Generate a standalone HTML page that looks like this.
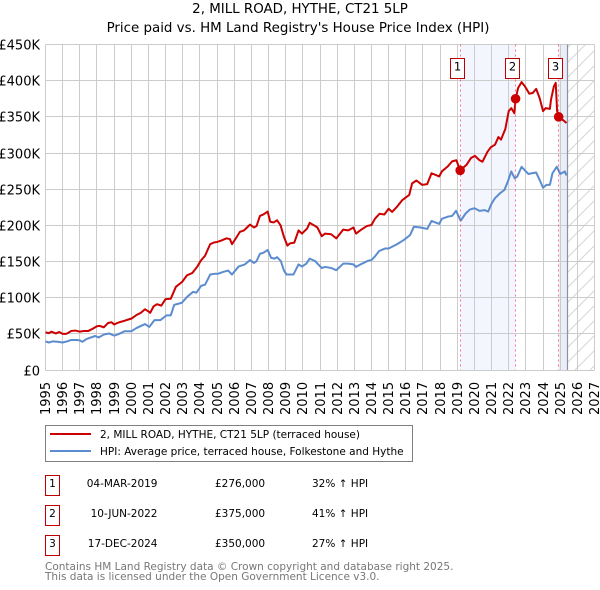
<!DOCTYPE html>
<html lang="en">
<head>
<meta charset="utf-8">
<title>2, MILL ROAD, HYTHE, CT21 5LP</title>
<style>
html,body{margin:0;padding:0;background:#fff;}
body{width:600px;height:590px;overflow:hidden;position:relative;font-family:"DejaVu Sans","Liberation Sans",sans-serif;}
svg{position:absolute;left:0;top:0;}
text{font-family:"DejaVu Sans","Liberation Sans",sans-serif;}
</style>
</head>
<body>
<svg id="chart" width="600" height="590" viewBox="0 0 600 590" xmlns="http://www.w3.org/2000/svg">
  <defs>
    <pattern id="hatch" patternUnits="userSpaceOnUse" width="15" height="15">
      <path d="M-2 17L17 -2M-2 2L2 -2M13 17L17 13" stroke="#d6d6d6" stroke-width="1" fill="none"/>
    </pattern>
  </defs>
  <text x="300" y="13" font-size="13.4" text-anchor="middle" fill="#000">2, MILL ROAD, HYTHE, CT21 5LP</text>
  <text x="298" y="32" font-size="13.4" text-anchor="middle" fill="#000">Price paid vs. HM Land Registry's House Price Index (HPI)</text>
  <g id="bands"></g>
  <g id="grid"></g>
  <g id="axis-labels"></g>
  <g id="series"></g>
  <g id="sales"></g>

  <rect x="45.5" y="425.5" width="367" height="36" fill="#fff" stroke="#808080" stroke-width="1"/>
  <line x1="50" x2="91" y1="434" y2="434" stroke="#cc0000" stroke-width="2"/>
  <text x="100" y="438" font-size="10.5" fill="#000">2, MILL ROAD, HYTHE, CT21 5LP (terraced house)</text>
  <line x1="50" x2="91" y1="451" y2="451" stroke="#5b8ccf" stroke-width="2"/>
  <text x="100" y="455" font-size="10.5" fill="#000">HPI: Average price, terraced house, Folkestone and Hythe</text>

  <g font-size="10.5" fill="#000">
    <rect x="45.5" y="475.5" width="14" height="20" fill="#fff" stroke="#c00000"/>
    <text x="52.5" y="487" text-anchor="middle">1</text>
    <text x="157.5" y="487" text-anchor="end">04-MAR-2019</text>
    <text x="215" y="487">£276,000</text>
    <text x="312" y="487">32% ↑ HPI</text>
  </g>
  <g font-size="10.5" fill="#000">
    <rect x="45.5" y="505.5" width="14" height="20" fill="#fff" stroke="#c00000"/>
    <text x="52.5" y="517" text-anchor="middle">2</text>
    <text x="157.5" y="517" text-anchor="end">10-JUN-2022</text>
    <text x="215" y="517">£375,000</text>
    <text x="312" y="517">41% ↑ HPI</text>
  </g>
  <g font-size="10.5" fill="#000">
    <rect x="45.5" y="535.5" width="14" height="20" fill="#fff" stroke="#c00000"/>
    <text x="52.5" y="547" text-anchor="middle">3</text>
    <text x="157.5" y="547" text-anchor="end">17-DEC-2024</text>
    <text x="215" y="547">£350,000</text>
    <text x="312" y="547">27% ↑ HPI</text>
  </g>
  <text x="45" y="570" font-size="10.5" fill="#777">Contains HM Land Registry data © Crown copyright and database right 2025.</text>
  <text x="45" y="580" font-size="10.5" fill="#777">This data is licensed under the Open Government Licence v3.0.</text>
</svg>
<script>
const yearTicks = [1995,1996,1997,1998,1999,2000,2001,2002,2003,2004,2005,2006,2007,2008,2009,2010,2011,2012,2013,2014,2015,2016,2017,2018,2019,2020,2021,2022,2023,2024,2025,2026,2027];
const valueTicks = [0,50000,100000,150000,200000,250000,300000,350000,400000,450000];
const valueTickLabels = ['£0','£50K','£100K','£150K','£200K','£250K','£300K','£350K','£400K','£450K'];

const priceDates = [1995,1995.2,1995.35,1995.6,1995.8,1996,1996.2,1996.3,1996.5,1996.75,1997,1997.25,1997.5,1997.75,1998,1998.15,1998.4,1998.65,1998.85,1999,1999.3,1999.6,1999.85,2000,2000.3,2000.55,2000.8,2001,2001.1,2001.3,2001.5,2001.75,2002,2002.3,2002.6,2002.97,2003.25,2003.55,2003.85,2004.05,2004.3,2004.6,2004.85,2005,2005.25,2005.55,2005.75,2005.87,2006.15,2006.33,2006.57,2006.92,2007.15,2007.3,2007.5,2007.7,2007.95,2008.1,2008.3,2008.5,2008.7,2008.9,2009.1,2009.25,2009.5,2009.75,2009.95,2010.25,2010.4,2010.65,2010.85,2011.1,2011.3,2011.65,2011.95,2012.35,2012.65,2012.95,2013.1,2013.4,2013.73,2014,2014.2,2014.47,2014.75,2015,2015.2,2015.5,2015.8,2016.2,2016.37,2016.62,2016.95,2017.25,2017.5,2017.95,2018.1,2018.45,2018.7,2018.95,2019.17,2019.55,2019.8,2020.03,2020.3,2020.47,2020.77,2020.96,2021.2,2021.4,2021.55,2021.8,2022,2022.15,2022.33,2022.4,2022.55,2022.75,2022.95,2023.2,2023.4,2023.6,2023.8,2024,2024.15,2024.4,2024.46,2024.63,2024.74,2024.82,2024.91,2025.05,2025.2,2025.37];
const priceValues = [52,51,53,50.5,52.5,50,50,51,54,54.5,53,54,54,57,60.5,61,59,65,66,63,66,68,70,71,76,79,84,81,79,88,91,89,98,98.5,115,122,131,134,143,151,158,174,176.5,177,179,182,181,174,184,191,193,201,197,199,213,215,219,205,204,207,200,184,172,175,176,193,188.6,195.6,203.5,200,197,185,188.6,187.7,182,194,193,197,188.6,194,199,200.5,209,216,215,223,218.5,226,235,242,258,262,256,257,272,267.6,274.5,281.5,288.4,290,276,284,293,296,290,288,302,308,311.5,322,318.5,333,358,362,355,375,390,398,392,382,383,388.6,376,358,362,361,373,392,397,358,350,347,345,341.5];

const hpiDates = [1995,1995.2,1995.4,1995.7,1996,1996.25,1996.5,1996.8,1997,1997.15,1997.4,1997.9,1998.1,1998.4,1998.7,1999,1999.3,1999.6,2000,2000.3,2000.8,2001.05,2001.35,2001.7,2002.05,2002.3,2002.5,2002.95,2003.25,2003.6,2003.8,2004.08,2004.3,2004.6,2004.85,2005.05,2005.35,2005.65,2005.87,2006.25,2006.62,2006.92,2007.15,2007.3,2007.5,2007.7,2007.95,2008.15,2008.35,2008.5,2008.72,2008.9,2009.05,2009.45,2009.75,2009.95,2010.2,2010.4,2010.72,2011.1,2011.3,2011.65,2011.95,2012.35,2012.65,2012.95,2013.1,2013.45,2013.8,2014,2014.2,2014.45,2014.8,2015,2015.5,2015.9,2016.25,2016.47,2016.87,2017.25,2017.5,2017.95,2018.1,2018.45,2018.7,2018.93,2019.2,2019.5,2019.75,2020,2020.3,2020.6,2020.8,2021,2021.2,2021.5,2021.75,2021.95,2022.15,2022.35,2022.5,2022.75,2023,2023.15,2023.35,2023.6,2023.8,2024,2024.2,2024.4,2024.55,2024.8,2025,2025.27,2025.37];
const hpiValues = [39.5,38,39.5,39,38,39.5,41.5,41.5,41,39,43,47,45,49,50.5,47.5,50,53.5,53.5,58,63.5,59.5,69,69,75.5,75.5,90,93,101,108,107,116.5,118,132,133,133,135.6,137.5,132,143,146,152,148,150.5,160.7,162,166,155,154,156,150.5,137.5,132,132,146,143,147,154,150.5,141,142.5,141,138,147,147,146,142.5,147,151,152,157,164.5,168,168,174,180,186.5,198,197,195,206,202,209,212,213,220,206.5,216.7,222,223.6,220,221,219,230,237.5,244.5,249,260.6,274.5,265,267.5,281,274.5,271,272,273,263,252,256,256,272,281,271,274.5,269];

const saleNumbers = ['1','2','3'];
const saleDates = [2019.17,2022.4,2024.91];
const saleValues = [276,375,350];
const forecastStart = [2025.42];

const SVG_NS = 'http://www.w3.org/2000/svg';
const plot = {left:45.5, right:594.5, top:44.5, bottom:370};
function xScale(year){ return plot.left + (year - 1995) * (plot.right - plot.left) / 32; }
function yScale(value){ return plot.bottom - value * (plot.bottom - plot.top) / 450000; }
function snap(v){ return Math.floor(v) + 0.5; }
function make(tag, parent, attrs){
  const el = document.createElementNS(SVG_NS, tag);
  for (const k in attrs) el.setAttribute(k, attrs[k]);
  parent.appendChild(el);
  return el;
}

const bands = document.getElementById('bands');
const grid = document.getElementById('grid');
const labels = document.getElementById('axis-labels');
const series = document.getElementById('series');
const sales = document.getElementById('sales');
const h = plot.bottom - plot.top;

const band1 = make('rect', bands, {x:xScale(saleDates[0]), y:plot.top, width:xScale(saleDates[1])-xScale(saleDates[0]), height:h, fill:'#f3f6fe'});


const band2 = make('rect', bands, {x:xScale(saleDates[2]), y:plot.top, width:xScale(forecastStart[0])-xScale(saleDates[2]), height:h, fill:'#e9eef9'});


const hatch = make('rect', bands, {x:xScale(forecastStart[0]), y:plot.top, width:plot.right-xScale(forecastStart[0]), height:h, fill:'url(#hatch)'});



yearTicks.forEach(function(year){
  const x = snap(xScale(year));
  const line = make('line', grid, {x1:x, x2:x, y1:plot.top, y2:plot.bottom, stroke:'#cccccc', 'stroke-width':1});
  
  
  const label = make('text', labels, {transform:'translate(' + (x + 4.5) + ',415) rotate(-90)', 'font-size':13, fill:'#000'});
  
  
  label.textContent = String(year);
});
valueTicks.forEach(function(value, i){
  const y = snap(yScale(value));
  const line = make('line', grid, {x1:plot.left, x2:plot.right, y1:y, y2:y, stroke:'#cccccc', 'stroke-width':1});
  
  
  const label = make('text', labels, {x:40, y:y + 5, 'font-size':13, 'text-anchor':'end', fill:'#000'});
  
  
  label.textContent = valueTickLabels[i];
});

const forecastLine = make('line', grid, {x1:snap(xScale(forecastStart[0])), x2:snap(xScale(forecastStart[0])), y1:plot.top, y2:plot.bottom, stroke:'#8a93a3', 'stroke-width':1.2});



function pathFrom(dates, values){
  return dates.map(function(d, i){
    return (i ? 'L' : 'M') + xScale(d).toFixed(2) + ' ' + yScale(values[i] * 1000).toFixed(2);
  }).join('');
}
const hpiPath = make('path', series, {d:pathFrom(hpiDates, hpiValues), fill:'none', stroke:'#5b8ccf', 'stroke-width':2, 'stroke-linejoin':'round'});


const pricePath = make('path', series, {d:pathFrom(priceDates, priceValues), fill:'none', stroke:'#cc0000', 'stroke-width':2, 'stroke-linejoin':'round'});



saleDates.forEach(function(date, i){
  const x = xScale(date);
  const guide = make('line', sales, {x1:snap(x), x2:snap(x), y1:plot.top, y2:plot.bottom, stroke:'#ff3344', 'stroke-opacity':0.65, 'stroke-width':1, 'stroke-dasharray':'2 3'});
  
  
  const dot = make('circle', sales, {cx:x, cy:yScale(saleValues[i] * 1000), r:4.8, fill:'#cc0000'});
  
  
  const box = make('rect', sales, {x:snap(x) - 10, y:58.5, width:14, height:20, fill:'#fff', stroke:'#c00000', 'stroke-width':1});
  
  
  const num = make('text', sales, {x:snap(x) - 3, y:70.5, 'font-size':11.5, 'text-anchor':'middle', fill:'#000'});
  
  
  num.textContent = saleNumbers[i];
});
</script>
</body>
</html>
